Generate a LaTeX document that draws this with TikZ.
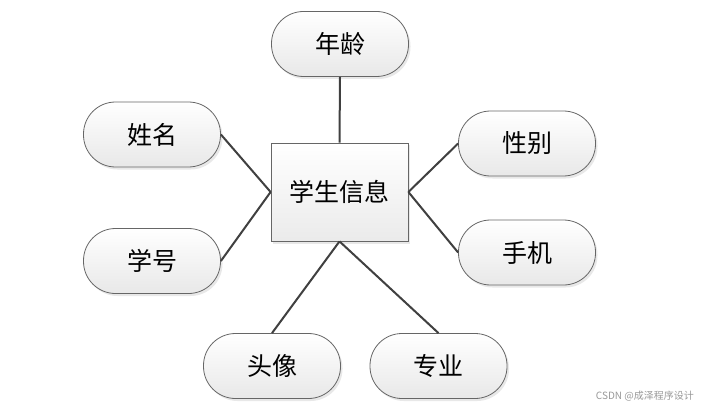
\documentclass[tikz,border=0pt]{standalone}
\usepackage{fontspec}
\newfontfamily\cjk{Noto Sans CJK SC}
\usetikzlibrary{shadows}
\begin{document}
\begin{tikzpicture}[x=1pt,y=-1pt,
  attr/.style={draw=black!60, line width=0.8pt, rounded corners=32pt,
    minimum width=137pt, minimum height=65pt, inner sep=0pt,
    top color=white, bottom color=black!9,
    drop shadow={shadow xshift=2pt, shadow yshift=-2.5pt, opacity=0.18},
    font=\cjk\fontsize{25}{29}\selectfont},
  entity/.style={draw=black!60, line width=0.8pt,
    minimum width=137pt, minimum height=98pt, inner sep=0pt,
    top color=white, bottom color=black!8,
    drop shadow={shadow xshift=2pt, shadow yshift=-2.5pt, opacity=0.18},
    font=\cjk\fontsize{25}{29}\selectfont},
  link/.style={draw=black!75, line width=2pt}]
\useasboundingbox (0,0) rectangle (704,409);
\fill[white] (0,0) rectangle (704,409);
\node[entity] (main) at (339.5,192) {学生信息};
\node[attr] (age) at (340,44) {年龄};
\node[attr] (name) at (152,134.5) {姓名};
\node[attr] (sid) at (152,261) {学号};
\node[attr] (sex) at (527,143.5) {性别};
\node[attr] (phone) at (527,252.5) {手机};
\node[attr] (avatar) at (272,366) {头像};
\node[attr] (major) at (438.5,366) {专业};
\draw[link] (main.north) -- (age.south);
\draw[link] (main.west) -- (name.east);
\draw[link] (main.west) -- (sid.east);
\draw[link] (main.east) -- (sex.west);
\draw[link] (main.east) -- (phone.west);
\draw[link] (main.south) -- (avatar.north);
\draw[link] (main.south) -- (major.north);
\node[anchor=east, text=black!40, font=\cjk\fontsize{10}{12}\selectfont, inner sep=0pt] (wm) at (694,396) {CSDN @成泽程序设计};
\end{tikzpicture}
\end{document}
